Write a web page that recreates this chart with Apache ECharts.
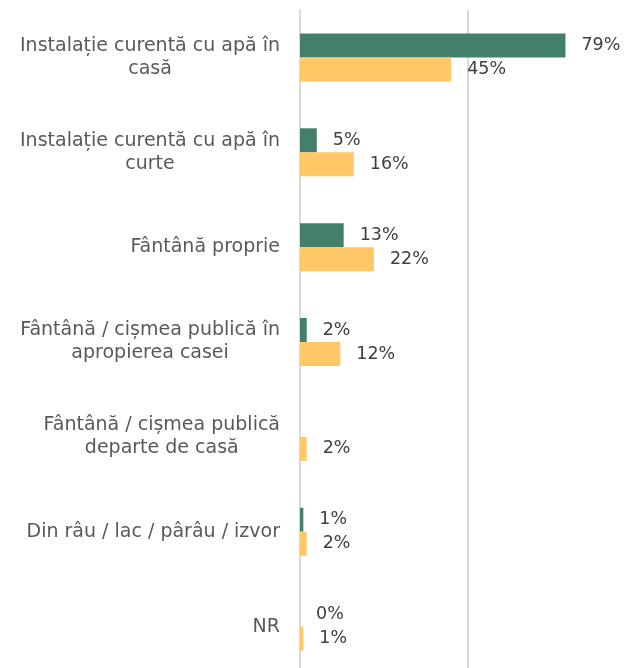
<!DOCTYPE html>
<html>
<head>
<meta charset="utf-8">
<script src="https://cdn.jsdelivr.net/npm/echarts@6/dist/echarts.min.js"></script>
<style>
  html, body { margin: 0; padding: 0; background: #fff; }
  #chart { width: 627px; height: 668px; }
</style>
</head>
<body>
<div id="chart"></div>
<script>
const categories = [
  "Instalație curentă cu apă în casă",
  "Instalație curentă cu apă în curte",
  "Fântână proprie",
  "Fântână / cișmea publică în apropierea casei",
  "Fântână / cișmea publică departe de casă",
  "Din râu / lac / pârâu / izvor",
  "NR"
];
const greenValues = [79, 5, 13, 2, null, 1, 0];
const yellowValues = [45, 16, 22, 12, 2, 2, 1];

// wrap a label by words, max chars per line
function wrap(text, maxChars) {
  const words = text.split(" ");
  const lines = [];
  let cur = "";
  words.forEach((w) => {
    const next = cur ? cur + " " + w : w;
    if (next.length > maxChars && cur) {
      lines.push(cur);
      cur = w;
    } else {
      cur = next;
    }
  });
  if (cur) lines.push(cur);
  return lines;
}

const chart = echarts.init(document.getElementById("chart"));

const labelStyle = {
  show: true,
  position: "right",
  distance: 16,
  formatter: (p) => p.value + "%",
  color: "#404040",
  fontFamily: "DejaVu Sans",
  fontSize: 17.5
};

const options = {
  animation: false,
  grid: { left: 300, top: 10, width: 336, height: 664, outerBoundsMode: "none", containLabel: false },
  xAxis: {
    type: "value",
    min: 0,
    max: 100,
    interval: 50,
    axisLabel: { show: false },
    axisLine: { show: false },
    axisTick: { show: false },
    splitLine: { lineStyle: { color: "#d9d9d9", width: 2 } }
  },
  yAxis: {
    type: "category",
    inverse: true,
    data: categories,
    axisLine: { show: true, lineStyle: { color: "#d9d9d9", width: 2 } },
    axisTick: { show: false },
    axisLabel: {
      margin: 20,
      align: "right",
      formatter: (v) => wrap(v, 29).map((l) => "{c|" + l + "}").join("\n"),
      rich: {
        c: {
          align: "center",
          color: "#595959",
          fontFamily: "DejaVu Sans",
          fontSize: 19,
          lineHeight: 23
        }
      }
    }
  },
  series: [
    {
      type: "bar",
      data: greenValues,
      barWidth: 24,
      barGap: "0%",
      itemStyle: { color: "#43806b" },
      label: labelStyle
    },
    {
      type: "bar",
      data: yellowValues,
      barWidth: 24,
      itemStyle: { color: "#ffc765" },
      label: labelStyle
    }
  ]
};

chart.setOption(options);
</script>
</body>
</html>
